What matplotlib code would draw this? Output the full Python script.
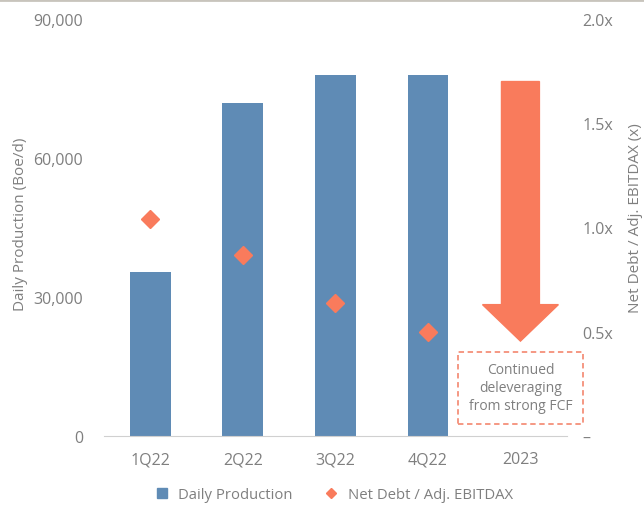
import matplotlib.pyplot as plt
import matplotlib.patches as mpatches
from matplotlib.lines import Line2D
from matplotlib.ticker import FuncFormatter
import numpy as np

plt.rcParams['font.family'] = ['Open Sans', 'DejaVu Sans']

# data
categories = ['1Q22', '2Q22', '3Q22', '4Q22', '2023']
production = [35400, 71900, 77900, 77900]          # Boe/d, no bar for 2023
leverage = [1.04, 0.87, 0.64, 0.50]               # Net Debt / Adj. EBITDAX

# arrow for 2023 (right axis units)
arrow_top = 1.70
arrow_head_start = 0.63
arrow_tip = 0.455
note_text = 'Continued\ndeleveraging\nfrom strong FCF'

blue = '#5f8bb5'
coral = '#f97b5c'
grey = '#7f7f7f'

fig = plt.figure(figsize=(6.44, 5.06), dpi=100)
ax = fig.add_axes([0.1615, 0.1364, 0.7185, 0.8241])
ax2 = ax.twinx()

x = np.arange(len(categories))
ax.bar(x[:len(production)], production, width=0.44, color=blue, zorder=2)
ax2.plot(x[:len(leverage)], leverage, linestyle='none', marker='D',
         markersize=9, color=coral, zorder=3)

ax.set_xlim(-0.5, 4.5)
ax.set_ylim(0, 90000)
ax2.set_ylim(0, 2.0)
ax.set_yticks([0, 30000, 60000, 90000])
ax2.set_yticks([0, 0.5, 1.0, 1.5, 2.0])
ax.yaxis.set_major_formatter(FuncFormatter(lambda v, p: f'{v:,.0f}'))
ax2.yaxis.set_major_formatter(FuncFormatter(lambda v, p: '–' if v == 0 else f'{v:.1f}x'))
ax.set_xticks(x)
ax.set_xticklabels(categories)

for a in (ax, ax2):
    for s in a.spines.values():
        s.set_visible(False)
    a.tick_params(length=0, colors=grey, labelsize=11.5)
ax.spines['bottom'].set_visible(True)
ax.spines['bottom'].set_color('#d0d0d0')
ax.tick_params(axis='x', pad=11)
ax.tick_params(axis='y', pad=15)
ax2.tick_params(axis='y', pad=11.5)

ax.set_ylabel('Daily Production (Boe/d)', color=grey, fontsize=11)
ax2.set_ylabel('Net Debt / Adj. EBITDAX (x)', color=grey, fontsize=11)
ax.yaxis.set_label_coords(-0.164, 0.51)
ax2.yaxis.set_label_coords(1.132, 0.525)

# big down arrow for 2023
bw, hw = 0.205, 0.41
cx = x[4]
arrow = mpatches.Polygon([
    (cx - bw, arrow_top), (cx + bw, arrow_top), (cx + bw, arrow_head_start),
    (cx + hw, arrow_head_start), (cx, arrow_tip), (cx - hw, arrow_head_start),
    (cx - bw, arrow_head_start)], closed=True, color=coral, zorder=3)
ax2.add_patch(arrow)

box = mpatches.Rectangle((3.32, 0.058), 1.36, 0.345, fill=False,
                         edgecolor='#f4907a', linestyle=(0, (3, 2)),
                         linewidth=1.3, clip_on=False, zorder=3)
ax2.add_patch(box)
ax2.text(cx, 0.232, note_text, ha='center', va='center', color=grey,
         fontsize=10, linespacing=1.3)

handles = [Line2D([], [], linestyle='none', marker='s', markersize=7, color=blue),
           Line2D([], [], linestyle='none', marker='D', markersize=5.5, color=coral)]
fig.legend(handles, ['Daily Production', 'Net Debt / Adj. EBITDAX'],
           loc='center', bbox_to_anchor=(0.512, 0.02), ncol=2, frameon=False,
           fontsize=10.7, labelcolor=grey, handletextpad=0.1, columnspacing=1.6)

fig.add_artist(Line2D([0, 1], [0.998, 0.998], color='#c8c4bc', linewidth=2,
                      transform=fig.transFigure))

fig.savefig('out.png', dpi=100)
